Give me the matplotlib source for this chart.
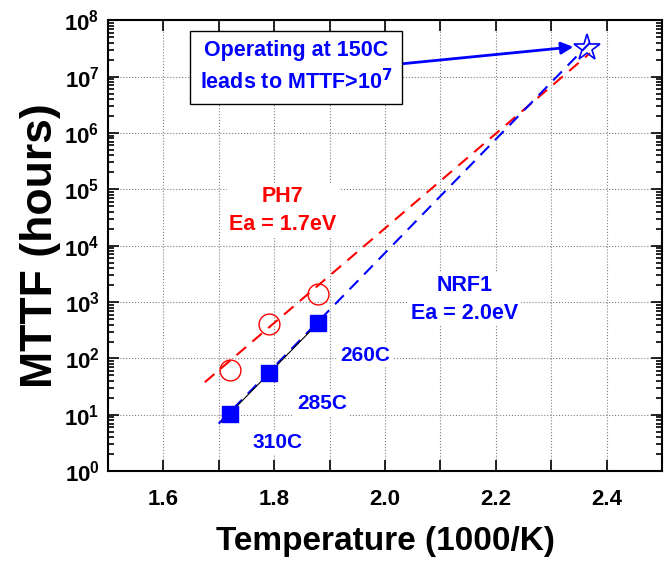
import numpy as np
import matplotlib.pyplot as plt
from matplotlib.ticker import MultipleLocator, LogLocator, NullFormatter

plt.rcParams['font.family'] = ['Liberation Sans', 'DejaVu Sans']
plt.rcParams['font.weight'] = 'bold'
plt.rcParams['mathtext.default'] = 'bf'

# measured points, 1000/T vs MTTF
ph7_x = [1.72, 1.79, 1.88]
ph7_y = [62, 410, 1420]
nrf1_x = [1.72, 1.79, 1.88]
nrf1_y = [10.5, 55, 430]

# extrapolated Arrhenius fits (end points)
ph7_fit_x = [1.675, 2.37]
ph7_fit_y = [38, 2.6e7]
nrf1_fit_x = [1.70, 2.37]
nrf1_fit_y = [7.0, 4.0e7]
nrf1_seg_x = [1.705, 1.88]
nrf1_seg_y = [7.5, 430]

op_x = [2.365]
op_y = [3.2e7]

fig = plt.figure(figsize=(6.66, 5.61), dpi=100)
ax = fig.add_axes([0.162, 0.160, 0.832, 0.804])

ax.plot(ph7_fit_x, ph7_fit_y, color='red', ls=(0, (6, 4)), lw=1.5, zorder=3)
ax.plot(nrf1_fit_x, nrf1_fit_y, color='blue', ls=(0, (6, 4)), lw=1.5, zorder=3)
ax.plot(nrf1_seg_x, nrf1_seg_y, color='black', lw=0.8, zorder=3)
ax.plot(ph7_x, ph7_y, 'o', mfc='none', mec='red', ms=15, mew=1.0, zorder=4)
ax.plot(nrf1_x, nrf1_y, 's', color='blue', ms=12, zorder=4)
ax.plot(op_x, op_y, '*', mfc='none', mec='blue', ms=20, mew=1.2, zorder=5)

ax.set_yscale('log')
ax.set_xlim(1.5, 2.5)
ax.set_ylim(1, 1e8)

ax.xaxis.set_major_locator(MultipleLocator(0.2))
ax.xaxis.set_minor_locator(MultipleLocator(0.1))
ax.yaxis.set_major_locator(LogLocator(base=10, numticks=20))
ax.yaxis.set_minor_locator(LogLocator(base=10, subs=np.arange(2, 10), numticks=20))
ax.yaxis.set_minor_formatter(NullFormatter())
ax.tick_params(which='both', direction='in', top=True, right=True, width=1.2)
ax.tick_params(which='major', length=8, labelsize=16)
ax.tick_params(which='minor', length=4)
ax.tick_params(axis='x', which='minor', length=8)
ax.tick_params(axis='x', which='major', pad=13)
ax.tick_params(axis='y', which='major', pad=6)
for lab in ax.get_xticklabels() + ax.get_yticklabels():
    lab.set_fontweight('bold')

ax.grid(which='major', ls=':', color='gray', lw=0.8)
ax.grid(which='minor', axis='x', ls=':', color='gray', lw=0.8)
for sp in ax.spines.values():
    sp.set_linewidth(1.5)

ax.set_xlabel('Temperature (1000/K)', fontsize=24, fontweight='bold', labelpad=11)
ax.set_ylabel('MTTF (hours)', fontsize=32, fontweight='bold', labelpad=2)

wb = dict(facecolor='white', edgecolor='none', pad=2)
ax.text(1.816, 4.2e4, 'PH7\nEa = 1.7eV', color='red', fontsize=15.5, fontweight='bold',
        ha='center', va='center', linespacing=1.4, bbox=wb, zorder=2)
ax.text(2.144, 1.12e3, 'NRF1\nEa = 2.0eV', color='blue', fontsize=15.5, fontweight='bold',
        ha='center', va='center', linespacing=1.4, bbox=wb, zorder=2)
ax.text(1.964, 114, '260C', color='blue', fontsize=15, fontweight='bold',
        ha='center', va='center', bbox=wb, zorder=2)
ax.text(1.886, 16, '285C', color='blue', fontsize=15, fontweight='bold',
        ha='center', va='center', bbox=wb, zorder=2)
ax.text(1.807, 3.27, '310C', color='blue', fontsize=15, fontweight='bold',
        ha='center', va='center', bbox=wb, zorder=2)

ax.annotate('Operating at 150C\nleads to MTTF>10$^{7}$', xy=(2.345, 3.4e7), xytext=(1.839, 1.45e7),
            color='blue', fontsize=15.5, fontweight='bold', ha='center', va='center', linespacing=1.4,
            bbox=dict(facecolor='white', edgecolor='black', lw=1.0, pad=7),
            arrowprops=dict(arrowstyle='-|>', color='blue', lw=2, mutation_scale=18,
                            shrinkA=0, shrinkB=2, relpos=(1.0, 0.55)),
            zorder=6)

fig.savefig('out.png', dpi=100)
